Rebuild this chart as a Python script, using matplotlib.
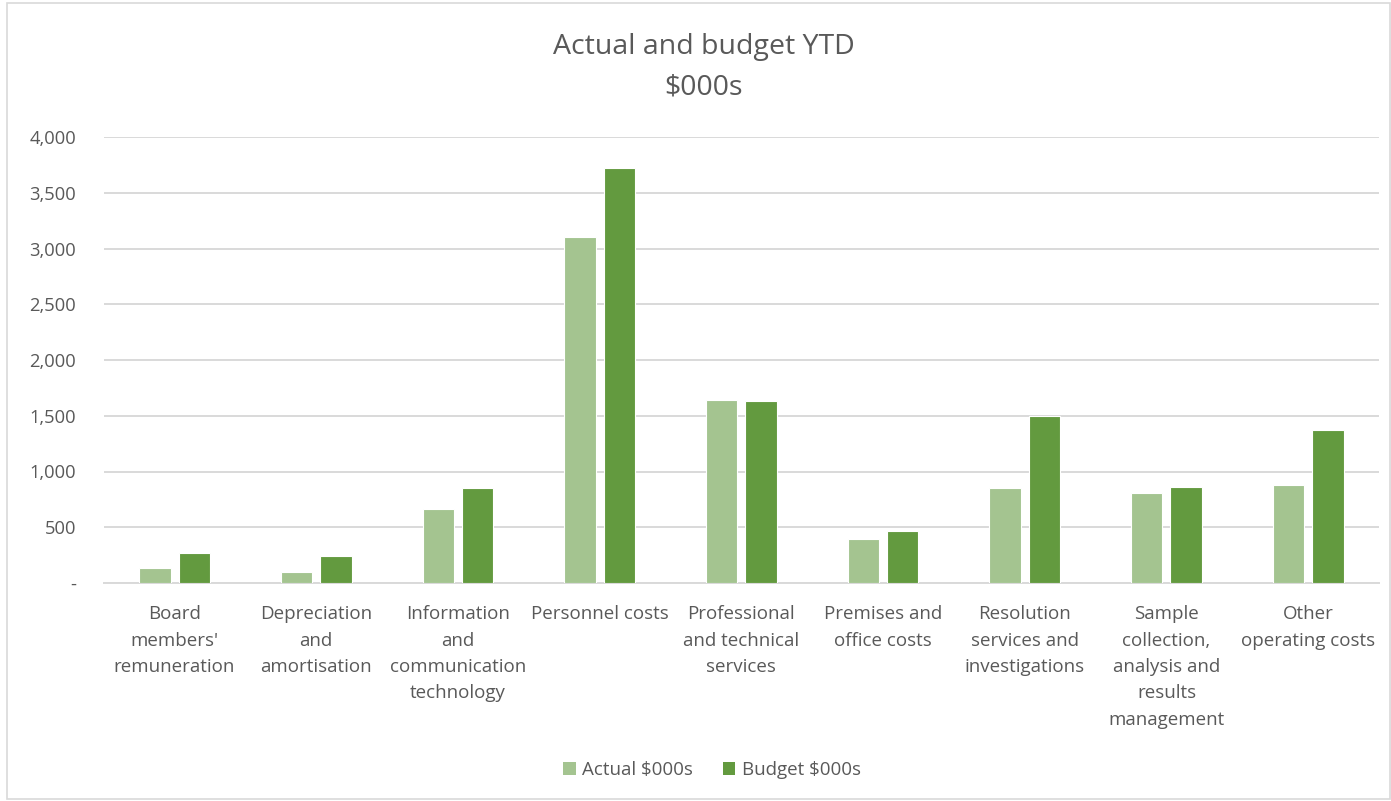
import matplotlib
matplotlib.use("Agg")
import matplotlib.pyplot as plt
import numpy as np
from matplotlib.patches import Rectangle, Patch

categories = ["Board\nmembers'\nremuneration", "Depreciation\nand\namortisation",
              "Information\nand\ncommunication\ntechnology", "Personnel costs",
              "Professional\nand technical\nservices", "Premises and\noffice costs",
              "Resolution\nservices and\ninvestigations",
              "Sample\ncollection,\nanalysis and\nresults\nmanagement",
              "Other\noperating costs"]
actual = [133, 101, 666, 3100, 1645, 392, 850, 805, 882]
budget = [271, 241, 854, 3725, 1636, 466, 1498, 858, 1370]
yticks = [0, 500, 1000, 1500, 2000, 2500, 3000, 3500, 4000]
ytick_labels = ["-", "500", "1,000", "1,500", "2,000", "2,500", "3,000", "3,500", "4,000"]

c_actual = "#A4C490"
c_budget = "#639A3F"
txt = "#595959"
font = ["Open Sans", "DejaVu Sans"]
plt.rcParams['font.family'] = font

fig = plt.figure(figsize=(13.91, 8.01), dpi=100)
ax = fig.add_axes([103.7/1391, 1-583/801, (1379-103.7)/1391, (583-137)/801])

x = np.arange(len(categories))
w = 0.222
off = 0.139
ax.bar(x - off, actual, width=w, color=c_actual, edgecolor="white", linewidth=0.8, zorder=3)
ax.bar(x + off, budget, width=w, color=c_budget, edgecolor="white", linewidth=0.8, zorder=3)

ax.set_xlim(-0.5, len(categories) - 0.5)
ax.set_ylim(0, 4000)
ax.set_yticks(yticks)
ax.set_yticklabels(ytick_labels, color=txt, fontsize=13.2)
ax.set_xticks(x)
ax.set_xticklabels(categories, color=txt, fontsize=13.5, linespacing=1.6, va="top")
ax.tick_params(axis="both", length=0)
ax.tick_params(axis="y", pad=20)
ax.tick_params(axis="x", pad=16)
for lbl in ax.get_yticklabels():
    lbl.set_horizontalalignment("right")
ax.yaxis.grid(True, color="#D9D9D9", linewidth=1.4, zorder=0)
ax.set_axisbelow(True)
for s in ["top", "right", "left"]:
    ax.spines[s].set_visible(False)
ax.spines["bottom"].set_color("#D9D9D9")
ax.spines["bottom"].set_linewidth(1.4)

fig.text(704/1391, 1-47/801, "Actual and budget YTD", ha="center", va="center",
         fontsize=20.5, color=txt)
fig.text(704/1391, 1-88/801, "$000s", ha="center", va="center",
         fontsize=20.5, color=txt)

handles = [Patch(facecolor=c_actual, label="Actual $000s"),
           Patch(facecolor=c_budget, label="Budget $000s")]
fig.legend(handles=handles, loc="center", bbox_to_anchor=(712/1391, 1-770/801),
           ncol=2, frameon=False, fontsize=13.5, handlelength=0.65, handleheight=0.65,
           handletextpad=0.35, columnspacing=1.6, labelcolor=txt)

fig.patches.append(Rectangle((7/1391, 0.002), 1-8/1391, 1-5/801, transform=fig.transFigure,
                             fill=False, edgecolor="#D9D9D9", linewidth=1.2))

fig.savefig("out.png", dpi=100, facecolor="white")
